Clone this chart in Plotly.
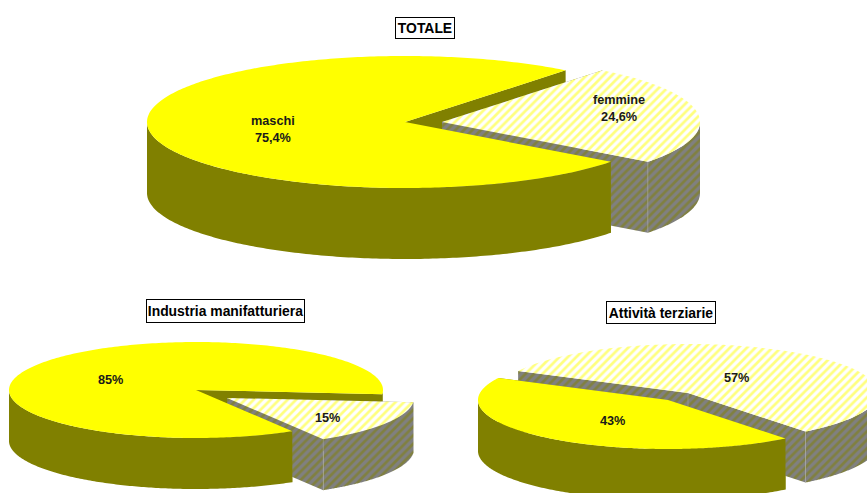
import numpy as np
import plotly.graph_objects as go

# ---- data ----
titles = ["TOTALE", "Industria manifatturiera", "Attività terziarie"]
maschi = [75.4, 85, 43]
femmine = [24.6, 15, 57]
label_maschi = ["maschi<br>75,4%", "85%", "43%"]
label_femmine = ["femmine<br>24,6%", "15%", "57%"]

# ---- layout of each pie (pixel space of the page) ----
W, H = 867, 493
start_deg = [51.5, -5.0, 153.4]        # where the maschi slice starts, anticlockwise
c_m = [(405, 122), (196, 390), (668, 400)]
c_f = [(442, 122), (227, 398), (688, 393)]
radii = [(258, 66), (187, 48), (190, 49)]
depth = [71, 51, 51]
lab_m = [(272.5, 129), (110, 380), (612, 421)]
lab_f = [(619, 108), (327, 418), (736, 378)]
title_box = [(425, 28, 60, 22), (225.5, 311, 159, 24), (661, 312, 110, 23)]

OLIVE, YEL, GREY, WHITE = "#808000", "#ffff00", "#808080", "#ffffff"
TOP_PAT = dict(shape="/", fgcolor=YEL, bgcolor=WHITE, size=6, solidity=0.45)
SIDE_PAT = dict(shape="/", fgcolor=OLIVE, bgcolor=GREY, size=6, solidity=0.45)

fig = go.Figure()


def arc(c, r, a0, a1, n=160):
    t = np.radians(np.linspace(a0, a1, n))
    return c[0] + r[0] * np.cos(t), c[1] - r[1] * np.sin(t)


def poly(x, y, color=None, pattern=None):
    kw = dict(fillpattern=pattern, fillcolor=pattern["bgcolor"]) if pattern else dict(fillcolor=color)
    fig.add_trace(go.Scatter(x=list(x), y=list(y), mode="none", fill="toself",
                             hoverinfo="skip", showlegend=False, **kw))


def wall_edge(c, r, a, d, **kw):
    px, py = arc(c, r, a, a, 1)
    poly([c[0], px[0], px[0], c[0]], [c[1], py[0], py[0] + d, c[1] + d], **kw)


def outer_wall(c, r, a0, a1, d, **kw):
    # only the part of the rim that faces the viewer (lower half of the ellipse)
    for k in range(-1, 3):
        lo, hi = max(a0, 180 + 360 * k), min(a1, 360 + 360 * k)
        if lo < hi:
            x, y = arc(c, r, lo, hi)
            poly(np.r_[x, x[::-1]], np.r_[y, y[::-1] + d], **kw)


def top(c, r, a0, a1, **kw):
    x, y = arc(c, r, a0, a1, 300)
    poly(np.r_[c[0], x, c[0]], np.r_[c[1], y, c[1]], **kw)


def seam(c, r, a, d):
    px, py = arc(c, r, a, a, 1)
    fig.add_trace(go.Scatter(x=[px[0], px[0]], y=[py[0], py[0] + d], mode="lines",
                             line=dict(color="#a8a8a8", width=1), opacity=0.5,
                             hoverinfo="skip", showlegend=False))


for i in range(3):
    a0 = start_deg[i]
    a1 = a0 + maschi[i] * 3.6            # end of maschi slice
    f0 = a0 - femmine[i] * 3.6           # femmine slice runs f0 .. a0
    r, d = radii[i], depth[i]
    # faces of maschi that the femmine slice stands in front of
    wall_edge(c_m[i], r, a0, d, color=OLIVE)
    wall_edge(c_m[i], r, a1, d, color=OLIVE)
    if a0 < 0:
        outer_wall(c_m[i], r, a0, 0, d, color=OLIVE)
    # femmine slice (hatched)
    wall_edge(c_f[i], r, a0, d, pattern=SIDE_PAT)
    wall_edge(c_f[i], r, f0, d, pattern=SIDE_PAT)
    outer_wall(c_f[i], r, f0, a0, d, pattern=SIDE_PAT)
    seam(c_f[i], r, f0, d)
    if a0 > 90:
        seam(c_f[i], (0, 0), 0, d)
    top(c_f[i], r, f0, a0, pattern=TOP_PAT)
    # maschi slice (solid), in front of everything else
    outer_wall(c_m[i], r, max(a0, 0), a1, d, color=OLIVE)
    top(c_m[i], r, a0, a1, color=YEL)

FONT = "Liberation Sans, Arial, sans-serif"
for i in range(3):
    for txt, pos in ((label_maschi[i], lab_m[i]), (label_femmine[i], lab_f[i])):
        fig.add_annotation(x=pos[0], y=pos[1], xref="x", yref="y", text=f"<b>{txt}</b>",
                           showarrow=False, font=dict(family=FONT, size=12.7, color="#1a1a1a"),
                           align="center")
    bx, by, bw, bh = title_box[i]
    fig.add_annotation(x=bx, y=by, xref="x", yref="y", text=f"<b>{titles[i]}</b>",
                       showarrow=False, font=dict(family=FONT, size=13.9, color="#000000"),
                       width=bw - 2, height=bh - 2, align="center", valign="middle",
                       bgcolor=WHITE, bordercolor="#000000", borderwidth=1, borderpad=0)

fig.update_layout(width=W, height=H, margin=dict(l=0, r=0, t=0, b=0),
                  paper_bgcolor=WHITE, plot_bgcolor=WHITE, showlegend=False,
                  xaxis=dict(range=[0, W], visible=False, fixedrange=True),
                  yaxis=dict(range=[H, 0], visible=False, fixedrange=True))

fig.write_html("out.html", config=dict(displayModeBar=False),
               post_script="document.body.style.margin='0';document.body.style.overflow='hidden';")
